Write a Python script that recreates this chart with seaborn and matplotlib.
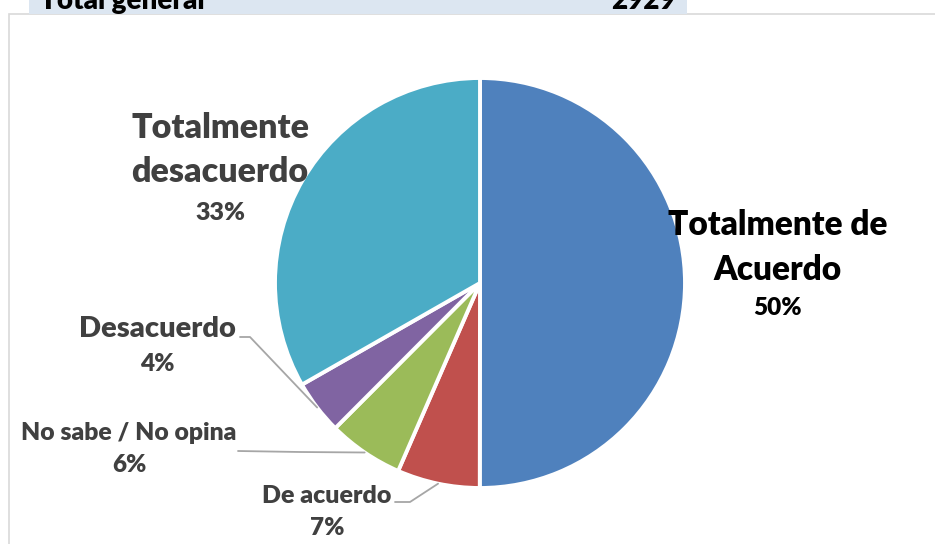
import matplotlib
matplotlib.use("Agg")
import matplotlib.pyplot as plt
import seaborn as sns
import numpy as np
from matplotlib.patches import Rectangle

# ---- data ----
categories = ["Totalmente de\nAcuerdo", "De acuerdo", "No sabe / No opina",
              "Desacuerdo", "Totalmente\ndesacuerdo"]
counts = [1465, 191, 174, 125, 974]
total_label = "Total general"
total_value = 2929
colors = ["#4F81BD", "#C0504D", "#9BBB59", "#8064A2", "#4BACC6"]

sns.set_theme(style="white")
plt.rcParams['font.family'] = ['Lato', 'DejaVu Sans']

W, H = 935, 544
fig = plt.figure(figsize=(W / 100, H / 100), dpi=100)
ax = fig.add_axes([0, 0, 1, 1])

def Y(y):  # image y (from top) -> data y
    return H - y

cx, cy, R = 480, Y(283), 205
palette = sns.color_palette(colors)
wedges, _ = ax.pie(counts, colors=palette, startangle=90, counterclock=False,
                   center=(cx, cy), radius=R,
                   wedgeprops=dict(edgecolor='white', linewidth=2.8))
ax.set_xlim(0, W)
ax.set_ylim(0, H)
ax.set_aspect('equal')
ax.axis('off')

WT = 'heavy'

# chart frame and cut-off header banner
ax.add_patch(Rectangle((9, -10), W, H - 14 + 10, fill=False,
                       edgecolor='#D9D9D9', lw=1.2, zorder=0))
ax.add_patch(Rectangle((29, Y(14)), 687 - 29, 30, facecolor='#DCE6F1',
                       edgecolor='none', zorder=0, clip_on=False))
ax.text(40, Y(9), total_label, fontsize=20, fontweight=WT, color='black',
        va='baseline', ha='left')
ax.text(676, Y(9), f"{total_value}", fontsize=20, fontweight=WT,
        color='black', va='baseline', ha='right')

# label layout (image coordinates)
layout = [
    dict(x=778, ys=[225, 270], py=308, fs=24, pfs=17.5, c='black', leader=None),
    dict(x=327, ys=[496], py=528, fs=18, pfs=17.5, c='#404040',
         leader=[(395, 502), (410, 502)]),
    dict(x=129, ys=[433], py=465, fs=17.8, pfs=17.5, c='#404040',
         leader=[(238, 451), (300, 452)]),
    dict(x=157, ys=[329], py=364, fs=21, pfs=17.5, c='#404040',
         leader=[(240, 337), (250, 337)]),
    dict(x=220, ys=[128, 172], py=213, fs=24.5, pfs=18, c='#404040', leader=None),
]

total = sum(counts)
for w, cat, cnt, lay in zip(wedges, categories, counts, layout):
    for line, yy in zip(cat.split("\n"), lay['ys']):
        ax.text(lay['x'], Y(yy), line, fontsize=lay['fs'], fontweight=WT,
                color=lay['c'], ha='center', va='center')
    ax.text(lay['x'], Y(lay['py']), f"{100 * cnt / total:.0f}%",
            fontsize=lay['pfs'], fontweight=WT, color=lay['c'],
            ha='center', va='center')
    if lay['leader']:
        ang = np.deg2rad((w.theta1 + w.theta2) / 2)
        ex, ey = cx + R * np.cos(ang), cy + R * np.sin(ang)
        xs = [p[0] for p in lay['leader']] + [ex]
        ys = [Y(p[1]) for p in lay['leader']] + [ey]
        ax.plot(xs, ys, color='#A6A6A6', lw=1.3, zorder=3)

fig.savefig("out.png", dpi=100)
